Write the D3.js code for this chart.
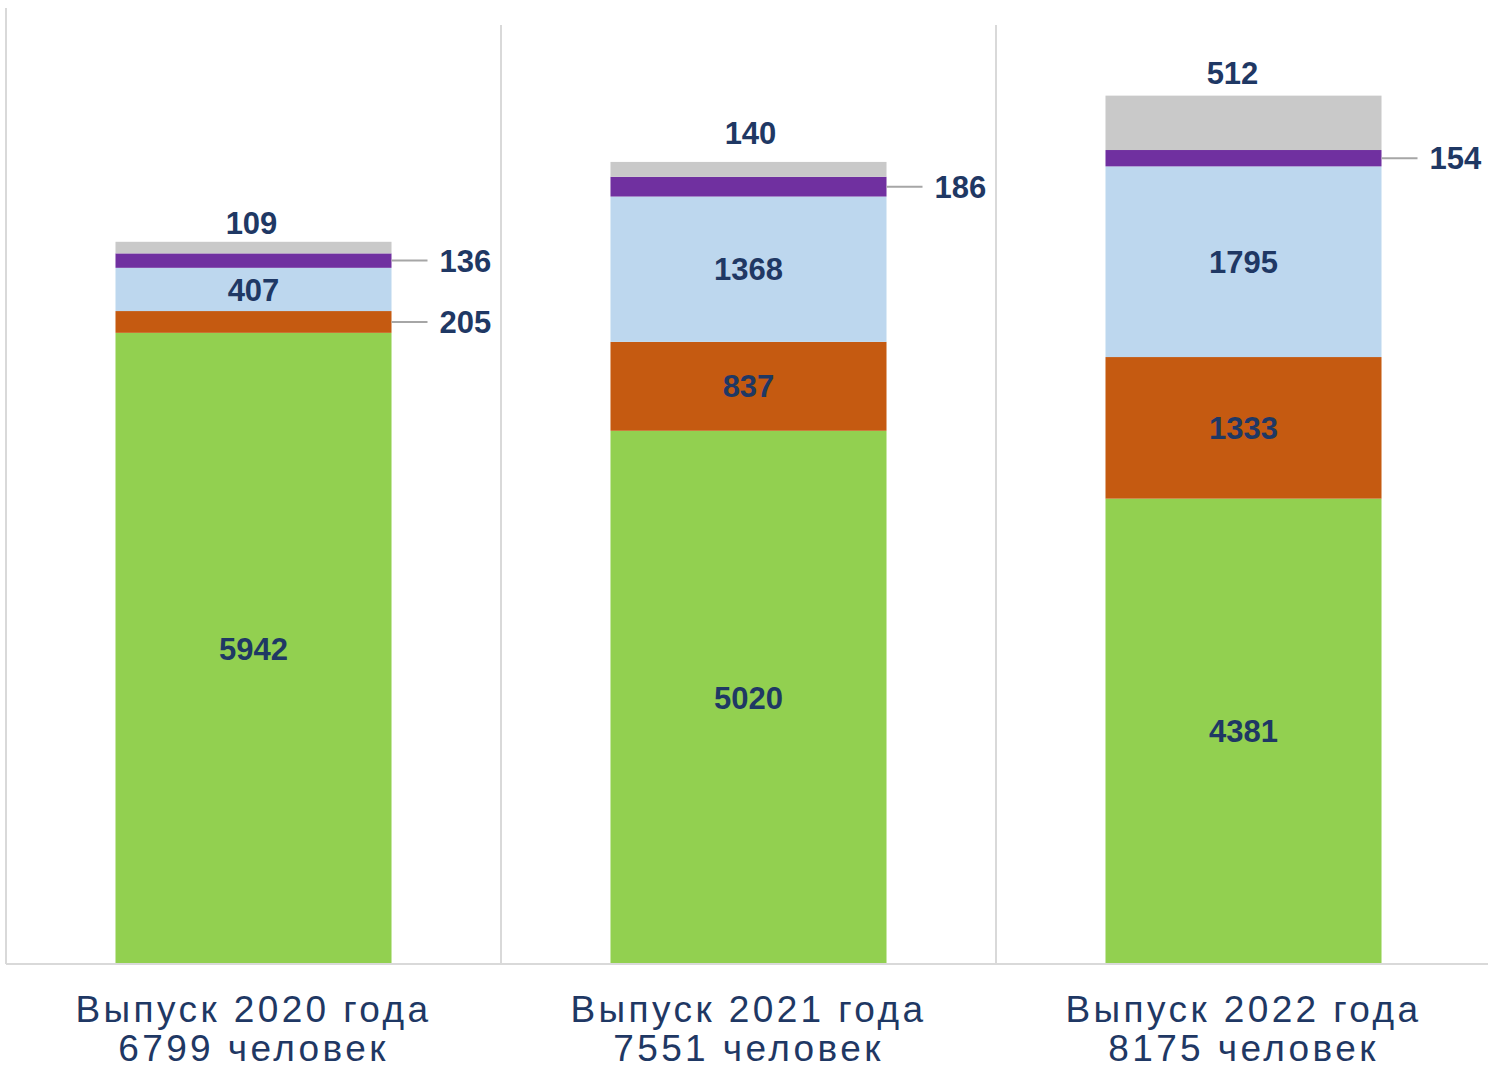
<!DOCTYPE html>
<html><head><meta charset="utf-8">
<script src="https://cdn.jsdelivr.net/npm/d3@7"></script>
<style>
html,body{margin:0;padding:0;background:#fff;}
svg{display:block;font-family:"Liberation Sans",Arial,sans-serif;}
</style></head>
<body><svg id="chart" width="1488" height="1068"></svg>
<script>
// ---- data ----
const categories = ["Выпуск 2020 года", "Выпуск 2021 года", "Выпуск 2022 года"];
const totals = ["6799 человек", "7551 человек", "8175 человек"];
const seriesNames = ["s1", "s2", "s3", "s4", "s5"];
const s1 = [5942, 5020, 4381];
const s2 = [205, 837, 1333];
const s3 = [407, 1368, 1795];
const s4 = [136, 186, 154];
const s5 = [109, 140, 512];
const yTicks = [0, 9000];

// ---- styles ----
const colors = ["#92d050", "#c55a11", "#bdd7ee", "#7030a0", "#c9c9c9"];
const labelColor = "#1f3864";
const gridColor = "#d9d9d9";
const topLabelGap = [8, 18, 12];
const topLabelDx = [-2, 2, -11];

const svg = d3.select("#chart");
const W = 1488, H = 1068;
const margin = {left: 6, right: -3, top: 8, bottom: 104};
const x = d3.scaleBand().domain(categories).range([margin.left, W - margin.right]).padding(0);
const y = d3.scaleLinear().domain(d3.extent(yTicks)).range([H - margin.bottom, margin.top]);
const barW = x.bandwidth() * 0.5576;
const baseY = y(0);

const rows = categories.map((c, i) => {
  const r = {cat: c, idx: i};
  [s1, s2, s3, s4, s5].forEach((s, k) => r[seriesNames[k]] = s[i]);
  return r;
});
const stack = d3.stack().keys(seriesNames)(rows);

// grid / separators
const g = svg.append("g");
g.append("line").attr("x1", margin.left).attr("x2", margin.left)
  .attr("y1", y(9000)).attr("y2", baseY).attr("stroke", gridColor).attr("stroke-width", 2);
categories.slice(1).forEach(c => {
  g.append("line").attr("x1", x(c)).attr("x2", x(c))
    .attr("y1", 25).attr("y2", baseY).attr("stroke", gridColor).attr("stroke-width", 2);
});

// bars
const bars = svg.append("g");
stack.forEach((layer, k) => {
  bars.selectAll(null).data(layer).enter().append("rect")
    .attr("x", d => x(d.data.cat) + (x.bandwidth() - barW) / 2)
    .attr("width", barW)
    .attr("y", d => y(d[1]))
    .attr("height", d => y(d[0]) - y(d[1]))
    .attr("fill", colors[k]);
});

// baseline
svg.append("line").attr("x1", margin.left).attr("x2", W)
  .attr("y1", baseY).attr("y2", baseY).attr("stroke", gridColor).attr("stroke-width", 2);

// value labels
const lab = svg.append("g").attr("font-weight", "bold").attr("font-size", 31).attr("fill", labelColor);
stack.forEach((layer, k) => {
  layer.forEach((d, i) => {
    const val = d[1] - d[0];
    const cx = x(d.data.cat) + x.bandwidth() / 2;
    const right = x(d.data.cat) + (x.bandwidth() + barW) / 2;
    const y0 = y(d[0]), y1 = y(d[1]);
    const h = y0 - y1;
    const mid = (y0 + y1) / 2;
    if (k === 4) {
      lab.append("text").attr("x", cx + topLabelDx[i]).attr("y", y1 - topLabelGap[i])
        .attr("text-anchor", "middle").text(val);
    } else if (k === 3 || h < 25) {
      svg.append("line").attr("x1", right).attr("x2", right + 36)
        .attr("y1", mid).attr("y2", mid).attr("stroke", "#a6a6a6").attr("stroke-width", 2);
      lab.append("text").attr("x", right + 48).attr("y", mid).attr("dy", "0.36em")
        .text(val);
    } else {
      lab.append("text").attr("x", cx).attr("y", mid).attr("dy", "0.36em")
        .attr("text-anchor", "middle").text(val);
    }
  });
});

// category labels
const cl = svg.append("g").attr("font-size", 37).attr("fill", labelColor)
  .attr("letter-spacing", "3.4px").attr("text-anchor", "middle");
categories.forEach((c, i) => {
  const cx = x(c) + x.bandwidth() / 2;
  cl.append("text").attr("x", cx).attr("y", 1022).text(c);
  cl.append("text").attr("x", cx).attr("y", 1061).text(totals[i]);
});
</script></body></html>
